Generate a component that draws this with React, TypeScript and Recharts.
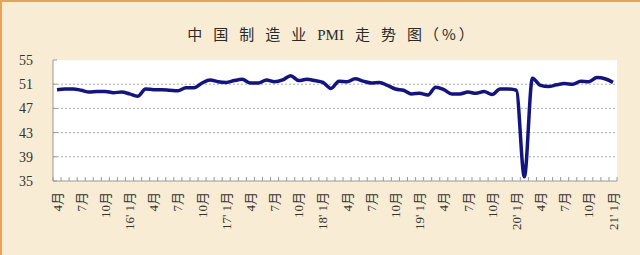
import { LineChart, Line, XAxis, YAxis, CartesianGrid } from "recharts"

// 制造业PMI，2015年4月 ~ 2021年1月
const months = [
  "4月", "5月", "6月", "7月", "8月", "9月", "10月", "11月", "12月",
  "16' 1月", "2月", "3月", "4月", "5月", "6月", "7月", "8月", "9月", "10月", "11月", "12月",
  "17' 1月", "2月", "3月", "4月", "5月", "6月", "7月", "8月", "9月", "10月", "11月", "12月",
  "18' 1月", "2月", "3月", "4月", "5月", "6月", "7月", "8月", "9月", "10月", "11月", "12月",
  "19' 1月", "2月", "3月", "4月", "5月", "6月", "7月", "8月", "9月", "10月", "11月", "12月",
  "20' 1月", "2月", "3月", "4月", "5月", "6月", "7月", "8月", "9月", "10月", "11月", "12月",
  "21' 1月",
]

const pmi = [
  50.1, 50.2, 50.2, 50.0, 49.7, 49.8, 49.8, 49.6, 49.7,
  49.4, 49.0, 50.2, 50.1, 50.1, 50.0, 49.9, 50.4, 50.4, 51.2, 51.7, 51.4,
  51.3, 51.6, 51.8, 51.2, 51.2, 51.7, 51.4, 51.7, 52.4, 51.6, 51.8, 51.6,
  51.3, 50.3, 51.5, 51.4, 51.9, 51.5, 51.2, 51.3, 50.8, 50.2, 50.0, 49.4,
  49.5, 49.2, 50.5, 50.1, 49.4, 49.4, 49.7, 49.5, 49.8, 49.3, 50.2, 50.2,
  50.0, 35.7, 52.0, 50.8, 50.6, 50.9, 51.1, 51.0, 51.5, 51.4, 52.1, 51.9,
  51.3,
]

const yTicks = [35, 39, 43, 47, 51, 55]
const gridLines = [39, 43, 47, 51]

const data = months.map((m, i) => ({ month: m, value: pmi[i] }))

const W = 640
const H = 255
const PLOT_LEFT = 53
const PLOT_RIGHT = 617
const PAD = 4
const STEP = (PLOT_RIGHT - PLOT_LEFT - PAD * 2) / (months.length - 1)

const labelFont = "'Liberation Serif', 'Times New Roman', 'Noto Sans CJK SC', serif"

const MonthTick = (props: any) => {
  const { x, y, index, payload } = props
  const half = STEP / 2
  const show = index % 3 === 0
  return (
    <g transform={`translate(${x},${y})`}>
      <line x1={-half} y1={-4} x2={-half} y2={0} stroke="#999" />
      {index === months.length - 1 && (
        <line x1={half} y1={-4} x2={half} y2={0} stroke="#999" />
      )}
      {show && (
        <text
          transform="rotate(-90)"
          x={-11}
          y={0}
          dy="0.35em"
          textAnchor="end"
          fill="#333"
          style={{ fontSize: 13, fontFamily: labelFont }}
        >
          {payload.value}
        </text>
      )}
    </g>
  )
}

const ValueTick = (props: any) => {
  const { x, y, payload } = props
  return (
    <g>
      <line x1={x + 20} y1={y} x2={x + 24} y2={y} stroke="#999" />
      <text
        x={x}
        y={y}
        dy="0.35em"
        textAnchor="end"
        fill="#333"
        style={{ fontSize: 14, fontFamily: labelFont }}
      >
        {payload.value}
      </text>
    </g>
  )
}

const cjk = { letterSpacing: 11 }

export default function App() {
  return (
    <div
      style={{
        position: "absolute",
        top: 0,
        left: 0,
        width: W,
        height: H,
        boxSizing: "border-box",
        background: "#f8ecd4",
        borderTop: "2px solid #eda057",
        borderLeft: "2px solid #eda057",
      }}
    >
      <div
        style={{
          position: "absolute",
          top: 21,
          left: 10,
          width: W,
          textAlign: "center",
          fontSize: 15,
          color: "#2a2a2a",
          fontFamily: "'Noto Sans CJK SC', sans-serif",
          whiteSpace: "nowrap",
        }}
      >
        <span style={cjk}>中国制造业</span>
        <span style={{ fontFamily: labelFont, marginRight: 11 }}>PMI</span>
        <span style={cjk}>走势</span>
        <span>图</span>
        <span style={{ letterSpacing: 3, marginLeft: 2 }}>（%）</span>
      </div>
      <div style={{ position: "absolute", top: -2, left: -2 }}>
        <LineChart width={W} height={H} data={data} margin={{ top: 60, right: W - PLOT_RIGHT, bottom: 0, left: 0 }}>
          <CartesianGrid
            vertical={false}
            fill="#ffffff"
            stroke="#aaa"
            strokeDasharray="2 2"
            horizontalValues={gridLines}
          />
          <XAxis
            dataKey="month"
            interval={0}
            height={H - 181}
            padding={{ left: PAD, right: PAD }}
            tickLine={false}
            tickSize={0}
            tickMargin={0}
            axisLine={{ stroke: "#999" }}
            tick={<MonthTick />}
          />
          <YAxis
            domain={[35, 55]}
            ticks={yTicks}
            width={PLOT_LEFT}
            tickLine={false}
            tickSize={0}
            tickMargin={20}
            axisLine={{ stroke: "#999" }}
            tick={<ValueTick />}
            allowDataOverflow
          />
          <Line
            type="monotone"
            dataKey="value"
            stroke="#14147f"
            strokeWidth={3.5}
            dot={false}
            isAnimationActive={false}
          />
        </LineChart>
      </div>
    </div>
  )
}
